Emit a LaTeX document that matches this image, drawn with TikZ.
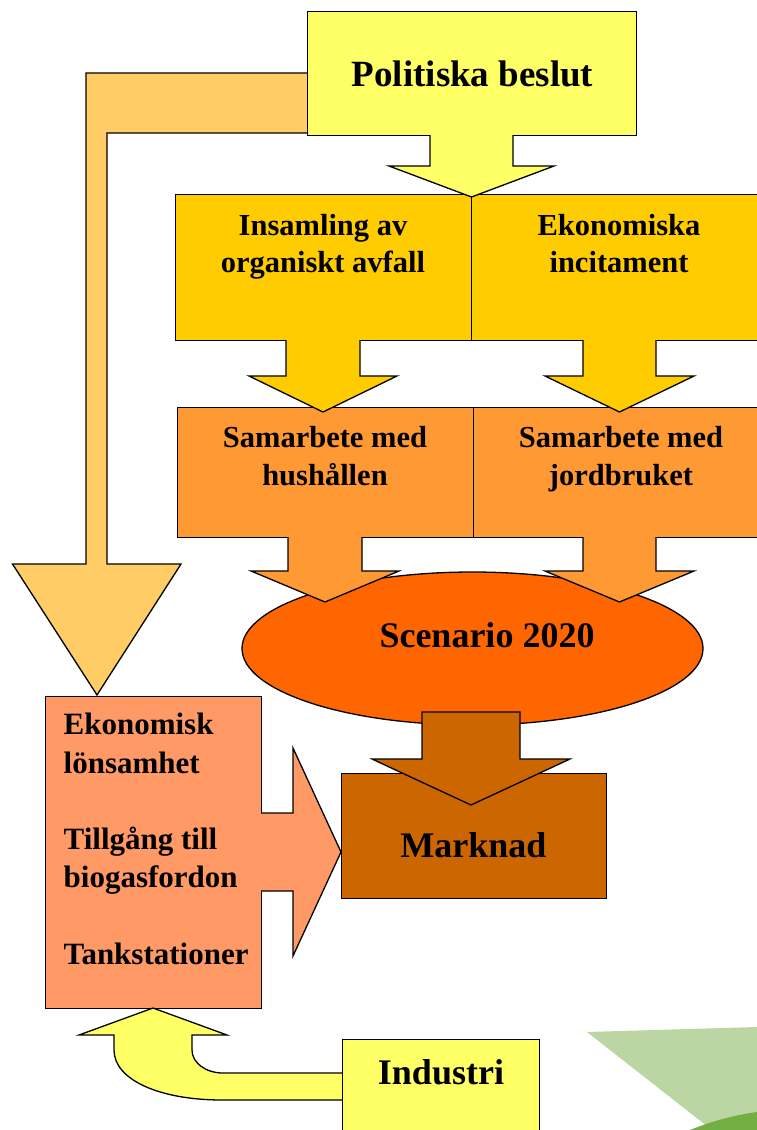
\documentclass[tikz,border=0pt]{standalone}
\usepackage{fontspec}
\setmainfont{Liberation Serif}
\usetikzlibrary{shapes.geometric}
\definecolor{cpol}{HTML}{FFFF66}
\definecolor{crowa}{HTML}{FFCC00}
\definecolor{crowb}{HTML}{FF9933}
\definecolor{cscen}{HTML}{FF6600}
\definecolor{cmark}{HTML}{CC6600}
\definecolor{cleft}{HTML}{FF9966}
\definecolor{cfeed}{HTML}{FFCC66}
\definecolor{glight}{HTML}{BBD6A3}
\definecolor{gdark}{HTML}{72AE42}
\tikzset{
  boxst/.style={draw=black, anchor=north west, inner sep=0pt},
  big/.style={anchor=base, inner sep=0pt, font=\fontsize{36}{42}\selectfont\bfseries},
  mid/.style={anchor=base, inner sep=0pt, font=\fontsize{30.5}{36}\selectfont\bfseries},
  sml/.style={anchor=base west, inner sep=0pt, font=\fontsize{31}{36}\selectfont\bfseries},
}
\begin{document}
\begin{tikzpicture}[x=1pt,y=-1pt,line width=1.3pt]
\useasboundingbox (0,0) rectangle (757,1130);
\clip (0,0) rectangle (757,1130);
% decorative green
\fill[glight] (587,1032) -- (757,1027) -- (757,1130) -- (712,1130) -- cycle;
\fill[gdark] (690,1130) .. controls (712,1121) and (735,1115) .. (757,1112) -- (757,1130) -- cycle;
% feedback arrow
\filldraw[fill=cfeed, draw=black] (330,73) -- (86,73) -- (86,564) -- (12.5,564) -- (97,695) -- (181,564) -- (107,564) -- (107,133) -- (330,133);
% scenario ellipse
\node[ellipse, draw=black, fill=cscen, minimum width=461pt, minimum height=153pt, inner sep=0pt] (scen) at (472.5,648.5) {};
% row 2 boxes
\node[boxst, fill=crowb, minimum width=296pt, minimum height=130pt] (samh) at (177,407) {};
\node[boxst, fill=crowb, minimum width=300pt, minimum height=130pt] (samj) at (473,407) {};
\fill[crowb] (288,535.5) -- (288,571) -- (251,571) -- (325,602) -- (399,571) -- (362,571) -- (362,535.5) -- cycle;
\draw (288,537) -- (288,571) -- (251,571) -- (325,602) -- (399,571) -- (362,571) -- (362,537);
\fill[crowb] (583,535.5) -- (583,571) -- (545,571) -- (619.5,602) -- (694,571) -- (656,571) -- (656,535.5) -- cycle;
\draw (583,537) -- (583,571) -- (545,571) -- (619.5,602) -- (694,571) -- (656,571) -- (656,537);
% row 1 boxes
\node[boxst, fill=crowa, minimum width=296pt, minimum height=146pt] (insa) at (175,194) {};
\node[boxst, fill=crowa, minimum width=300pt, minimum height=146pt] (ekin) at (471,194) {};
\fill[crowa] (286,338.5) -- (286,376) -- (249,376) -- (323,412) -- (397,376) -- (360,376) -- (360,338.5) -- cycle;
\draw (286,340) -- (286,376) -- (249,376) -- (323,412) -- (397,376) -- (360,376) -- (360,340);
\fill[crowa] (583,338.5) -- (583,376) -- (545,376) -- (619.5,412) -- (694,376) -- (656,376) -- (656,338.5) -- cycle;
\draw (583,340) -- (583,376) -- (545,376) -- (619.5,412) -- (694,376) -- (656,376) -- (656,340);
% politiska
\node[boxst, fill=cpol, minimum width=329pt, minimum height=124pt] (pol) at (307,11) {};
\fill[cpol] (430,133.5) -- (430,166) -- (389,166) -- (471.5,197) -- (554,166) -- (513,166) -- (513,133.5) -- cycle;
\draw (430,135) -- (430,166) -- (389,166) -- (471.5,197) -- (554,166) -- (513,166) -- (513,135);
% marknad
\node[boxst, fill=cmark, minimum width=265pt, minimum height=125pt] (mark) at (341,773) {};
\filldraw[fill=cmark, draw=black] (422,712) -- (520,712) -- (520,759) -- (570,759) -- (471,805) -- (372,759) -- (422,759) -- cycle;
% left box with arrow
\node[boxst, fill=cleft, minimum width=216pt, minimum height=312pt] (lbox) at (45,696) {};
\fill[cleft] (259.5,813) -- (293,813) -- (293,748) -- (341,852) -- (293,956) -- (293,891) -- (259.5,891) -- cycle;
\draw (261,813) -- (293,813) -- (293,748) -- (341,852) -- (293,956) -- (293,891) -- (261,891);
% curved arrow from industri
\filldraw[fill=cpol, draw=black] (350,1100) -- (222,1100) .. controls (160,1100) and (114,1080) .. (114,1050) -- (114,1035) -- (79,1035) -- (153,1008) -- (227,1035) -- (192,1035) -- (192,1050) .. controls (192,1063) and (206,1073) .. (223,1073) -- (350,1073) -- cycle;
\node[boxst, fill=cpol, minimum width=197pt, minimum height=120pt] (ind) at (342,1039) {};
% texts
\node[big, font=\fontsize{37}{43}\selectfont\bfseries] (tpol) at (472.5,86) {Politiska beslut};
\node[mid] (tinsa) at (323,235) {Insamling av};
\node[mid] (tinsb) at (323,272) {organiskt avfall};
\node[mid] (tekoa) at (619,235) {Ekonomiska};
\node[mid] (tekob) at (619,272) {incitament};
\node[mid] (tsama) at (325,447) {Samarbete med};
\node[mid] (tsamb) at (325,485) {hushållen};
\node[mid] (tjora) at (621,447) {Samarbete med};
\node[mid] (tjorb) at (621,485) {jordbruket};
\node[big] (tscen) at (487,647) {Scenario 2020};
\node[big] (tmark) at (473.5,857) {Marknad};
\node[sml] (tla) at (63,734) {Ekonomisk};
\node[sml] (tlb) at (63,773) {lönsamhet};
\node[sml] (tlc) at (63,849) {Tillgång till};
\node[sml] (tld) at (63,887) {biogasfordon};
\node[sml] (tle) at (63,964) {Tankstationer};
\node[big] (tind) at (441,1084) {Industri};
\end{tikzpicture}
\end{document}
